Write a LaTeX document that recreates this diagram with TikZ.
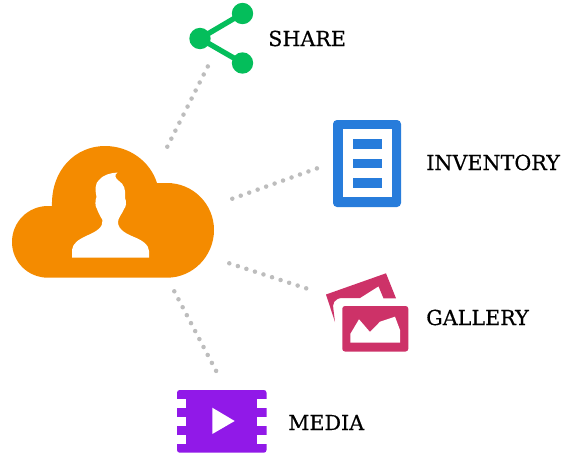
\documentclass[tikz,border=0pt]{standalone}
\usepackage{fontspec}
\setmainfont[FakeBold=0.45]{DejaVu Serif}
\definecolor{cloudc}{HTML}{F48B00}
\definecolor{sharec}{HTML}{04BE5B}
\definecolor{invc}{HTML}{277CDB}
\definecolor{galc}{HTML}{CD3268}
\definecolor{medc}{HTML}{9119E8}
\definecolor{dotc}{HTML}{BDBDBD}
\tikzset{
  x=0.75pt,y=-0.75pt,
  dotline/.style={draw=dotc,line width=3.4pt,line cap=round,dash pattern=on 0pt off 6.74pt},
  lab/.style={anchor=west,inner sep=0pt,font=\fontsize{15.5}{17}\selectfont,text=black},
  sharedot/.style={circle,fill=sharec,minimum size=16pt,inner sep=0pt},
}
\begin{document}
\begin{tikzpicture}
\useasboundingbox (0,0) rectangle (569,454);
% cloud
\fill[cloudc] (12,242) .. controls (12,222) and (28,206) .. (48,206) -- (52,206)
  .. controls (51,169.7) and (75.7,146) .. (105,146)
  .. controls (129,146) and (150,161) .. (157,183)
  -- (167,183) .. controls (193,183) and (214,204) .. (214,230)
  .. controls (214,256) and (193,277.7) .. (167,277.7) -- (48,277.7)
  .. controls (28,277.7) and (12,262) .. (12,242) -- cycle;
\fill[white] (72,257.7) -- (72,250) .. controls (73,243) and (78,240) .. (86,236)
  .. controls (98,231) and (103,227) .. (102.5,220)
  .. controls (100,216) and (98,212) .. (97,209)
  .. controls (95,207) and (95,200) .. (96.5,197)
  .. controls (95,190) and (95,183) .. (99,180)
  .. controls (103,175) and (110,173) .. (117.5,172.5)
  .. controls (114,175) and (115,178) .. (119,181)
  .. controls (124,184) and (126,190) .. (125,198)
  .. controls (127,202) and (126,207) .. (124,209)
  .. controls (122,214) and (118,218) .. (118,222)
  .. controls (118,230) and (127,234) .. (134,237)
  .. controls (142,240) and (149,245) .. (149,251) -- (149,257.7) -- cycle;
% share
\node[sharedot] (s1) at (200,38.5) {};
\node[sharedot] (s2) at (242.5,13.5) {};
\node[sharedot] (s3) at (242.5,63) {};
\draw[sharec,line width=4pt] (s2.center) -- (s1.center) -- (s3.center);
\node[lab] (tshare) at (268,38.5) {SHARE};
% inventory
\fill[invc,rounded corners=3pt] (333,120) rectangle (401,207);
\fill[white] (343,129) rectangle (391.5,197);
\fill[invc] (352.5,139) rectangle (381.5,149);
\fill[invc] (352.5,158.5) rectangle (381.5,168);
\fill[invc] (352.5,178) rectangle (381.5,187.5);
\node[lab] (tinv) at (426,162.5) {INVENTORY};
% gallery
\fill[galc] (326,294.5) -- (386,273.3) -- (396,298.3) -- (383.5,298.3) -- (378.5,286.3)
   -- (360,298) -- (343,298) .. controls (334,298) and (332,304) .. (333.5,310) -- (335,322) -- cycle;
\fill[galc,rounded corners=2pt] (342.3,306) rectangle (408.3,351.5);
\fill[white] (350.3,342.7) -- (350.3,334) -- (359,319.3) -- (370,332) -- (380,321.7)
   -- (395,316.7) -- (400,330) -- (400,342.7) -- cycle;
\node[lab] (tgal) at (426,317.5) {GALLERY};
% media
\fill[medc,rounded corners=2pt] (177,390) rectangle (266.5,452.7);
\foreach \y in {399,417,435}{
  \fill[white] (177,\y) rectangle (186,\y+8.6);
  \fill[white] (257,\y) rectangle (266.5,\y+8.6);
}
\fill[white] (212.3,407.7) -- (234.7,421) -- (212.3,434) -- cycle;
\node[lab] (tmed) at (288,422.5) {MEDIA};
% connectors
\coordinate (d1a) at (167.3,146.7); \coordinate (d1b) at (208,66);
\coordinate (d2a) at (232.3,198.7); \coordinate (d2b) at (317.5,168.2);
\coordinate (d3a) at (229.3,263.3); \coordinate (d3b) at (306.4,288.4);
\coordinate (d4a) at (174.3,291.3); \coordinate (d4b) at (216.4,371.5);
\draw[dotline] (d1a) -- (d1b);
\draw[dotline] (d2a) -- (d2b);
\draw[dotline] (d3a) -- (d3b);
\draw[dotline] (d4a) -- (d4b);
\end{tikzpicture}
\end{document}
